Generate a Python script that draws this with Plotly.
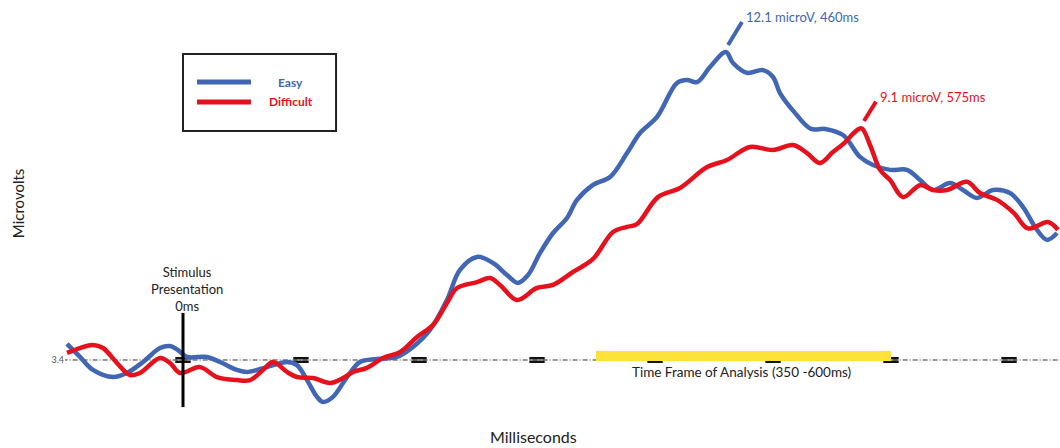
import plotly.graph_objects as go

# ---- ERP waveforms (time in ms, amplitude in microvolts) ----
easy_ms = [-98.3, -87.3, -76.3, -59.3, -47.5, -33.9, -19.5, -11.0, -4.2, 3.4,
           20.3, 31.4, 45.8, 54.2, 71.2, 88.1, 96.6, 105.1, 113.6, 118.6,
           127.1, 139.0, 150.0, 164.4, 181.4, 194.9, 209.3, 223.7, 234.7, 249.2,
           262.7, 274.6, 283.9, 292.4, 302.5, 313.6, 325.4, 333.9, 347.5, 361.9,
           376.3, 387.3, 401.7, 418.6, 427.1, 435.6, 446.6, 460.0, 466.1, 478.0,
           491.5, 500.0, 505.9, 518.6, 532.2, 544.1, 559.3, 573.7, 584.7, 599.2,
           613.6, 624.6, 635.6, 650.0, 661.0, 672.9, 686.4, 700.8, 711.9, 723.7,
           732.2, 740.7]
easy_uv = [0.63, 0.12, -0.39, -0.67, -0.51, -0.08, 0.47, 0.55, 0.39, 0.12,
           0.12, -0.08, -0.39, -0.47, -0.28, -0.08, -0.20, -0.79, -1.45, -1.65,
           -1.45, -0.67, -0.08, 0.04, 0.12, 0.51, 1.18, 2.36, 3.54, 4.05,
           3.81, 3.34, 3.03, 3.34, 4.20, 4.99, 5.58, 6.29, 6.88, 7.19,
           8.13, 8.92, 9.55, 10.88, 11.00, 10.92, 11.51, 12.1, 11.67, 11.28,
           11.39, 11.12, 10.49, 9.71, 9.08, 9.08, 8.84, 7.98, 7.66, 7.47,
           7.47, 7.07, 6.68, 6.95, 6.68, 6.37, 6.68, 6.56, 6.01, 5.11,
           4.72, 4.99]

difficult_ms = [-98.3, -87.3, -76.3, -67.8, -55.9, -44.9, -36.4, -19.5, -11.0, -2.5,
                14.4, 28.8, 45.8, 56.8, 67.8, 76.3, 88.1, 96.6, 110.2, 124.6,
                135.6, 144.1, 155.9, 169.5, 183.9, 198.3, 211.9, 223.7, 232.2, 249.2,
                260.2, 268.6, 283.1, 300.0, 313.6, 330.5, 347.5, 364.4, 376.3, 384.7,
                402.5, 421.2, 444.1, 461.0, 480.5, 500.0, 516.9, 528.8, 539.8, 550.8,
                561.0, 568.0, 575.0, 582.2, 590.7, 599.2, 610.2, 624.6, 635.6, 647.5,
                664.4, 675.4, 689.8, 704.2, 716.1, 733.1, 741.5]
difficult_uv = [0.28, 0.47, 0.59, 0.47, -0.12, -0.59, -0.51, 0.08, -0.12, -0.51,
                -0.28, -0.67, -0.79, -0.79, -0.39, -0.08, -0.47, -0.67, -0.71, -0.90,
                -0.71, -0.47, -0.31, 0.08, 0.31, 0.90, 1.38, 2.24, 2.83, 3.06,
                3.22, 2.95, 2.36, 2.83, 2.95, 3.46, 3.97, 5.03, 5.23, 5.34,
                6.40, 6.76, 7.58, 7.86, 8.37, 8.25, 8.45, 8.13, 7.74, 8.17,
                8.55, 8.90, 9.1, 8.45, 7.47, 7.07, 6.40, 6.87, 6.68, 6.68,
                7.00, 6.56, 6.29, 5.77, 5.17, 5.42, 5.11]

tick_ms = [0, 100, 200, 300, 400, 500, 600, 700]
window_ms = [350, 600]
easy_peak = (460, 12.1)
difficult_peak = (575, 9.1)

BLUE = "#4066B4"
RED = "#E5121E"
TEXT = "#222222"
FONT = "Lato"

fig = go.Figure()

# tick marks along the baseline (drawn as small double bars)
for off in (-0.07, 0.07):
    fig.add_trace(go.Scatter(
        x=tick_ms, y=[off] * len(tick_ms), mode="markers",
        marker=dict(symbol="line-ew", size=11, color="#111",
                    line=dict(width=2.5, color="#111")),
        hoverinfo="skip", showlegend=False))

fig.add_trace(go.Scatter(x=easy_ms, y=easy_uv, mode="lines", name="Easy",
                         line=dict(color=BLUE, width=4.5, shape="spline", smoothing=1),
                         showlegend=False))
fig.add_trace(go.Scatter(x=difficult_ms, y=difficult_uv, mode="lines", name="Difficult",
                         line=dict(color=RED, width=4.5, shape="spline", smoothing=1),
                         showlegend=False))

shapes = []
# dash-dot baseline
shapes.append(dict(type="line", xref="x", yref="y", x0=-102, x1=745, y0=0, y1=0,
                   line=dict(color="#333", width=1, dash="5px,2px,1px,2px"), layer="below"))
# analysis window bar
shapes.append(dict(type="rect", xref="x", yref="y", x0=window_ms[0], x1=window_ms[1],
                   y0=-0.04, y1=0.35, fillcolor="#FDE23A", line=dict(width=0), layer="above"))
# stimulus onset marker
shapes.append(dict(type="line", xref="x", yref="y", x0=0, x1=0, y0=-1.85, y1=1.85,
                   line=dict(color="black", width=3), layer="above"))
# legend box
shapes.append(dict(type="rect", xref="x", yref="y", x0=0, x1=129.7, y0=9.0, y1=12.02,
                   line=dict(color="#222", width=2), fillcolor="white", layer="above"))
shapes.append(dict(type="line", xref="x", yref="y", x0=11.9, x1=57.6, y0=10.92, y1=10.92,
                   line=dict(color=BLUE, width=5), layer="above"))
shapes.append(dict(type="line", xref="x", yref="y", x0=11.9, x1=57.6, y0=10.14, y1=10.14,
                   line=dict(color=RED, width=5), layer="above"))
# peak leader lines
shapes.append(dict(type="line", xref="x", yref="y", x0=easy_peak[0] + 1.9, y0=easy_peak[1] + 0.28,
                   x1=easy_peak[0] + 13.7, y1=easy_peak[1] + 1.18,
                   line=dict(color=BLUE, width=4)))
shapes.append(dict(type="line", xref="x", yref="y", x0=difficult_peak[0] + 2.1, y0=difficult_peak[1] + 0.29,
                   x1=difficult_peak[0] + 12.3, y1=difficult_peak[1] + 1.05,
                   line=dict(color=RED, width=4)))

annotations = [
    dict(x=91.5, y=10.9, xref="x", yref="y", text="<b>Easy</b>", showarrow=False,
         font=dict(family=FONT, size=12, color=BLUE)),
    dict(x=91.5, y=10.14, xref="x", yref="y", text="<b>Difficult</b>", showarrow=False,
         font=dict(family=FONT, size=12, color=RED)),
    dict(x=3, y=2.79, xref="x", yref="y", text="Stimulus<br>Presentation<br>0ms",
         showarrow=False, align="center", font=dict(family=FONT, size=13, color=TEXT)),
    dict(x=473.7, y=-0.47, xref="x", yref="y", text="Time Frame of Analysis (350 -600ms)",
         showarrow=False, font=dict(family=FONT, size=13.5, color=TEXT)),
    dict(x=easy_peak[0] + 15.4, y=easy_peak[1] + 1.38, xref="x", yref="y", xanchor="left",
         text=f"{easy_peak[1]} microV, {easy_peak[0]}ms", showarrow=False,
         font=dict(family=FONT, size=13, color=BLUE)),
    dict(x=difficult_peak[0] + 14.0, y=difficult_peak[1] + 1.25, xref="x", yref="y", xanchor="left",
         text=f"{difficult_peak[1]} microV, {difficult_peak[0]}ms", showarrow=False,
         font=dict(family=FONT, size=13, color=RED)),
    dict(x=-0.058, y=0.545, xref="paper", yref="paper", text="Microvolts", textangle=-90,
         showarrow=False, font=dict(family=FONT, size=15, color=TEXT)),
    dict(x=296.6, y=-2.99, xref="x", yref="y", text="Milliseconds", showarrow=False,
         font=dict(family=FONT, size=16, color=TEXT)),
]

fig.update_layout(
    width=1060, height=448,
    margin=dict(l=65, r=0, t=0, b=0),
    paper_bgcolor="white", plot_bgcolor="white",
    xaxis=dict(range=[-100, 743.2], showgrid=False, zeroline=False, showline=False,
               showticklabels=False, ticks=""),
    yaxis=dict(range=[-3.458, 14.145], showgrid=False, zeroline=False, showline=False,
               tickvals=[0], ticktext=["3.4"], ticks="",
               tickfont=dict(family=FONT, size=9, color="#555")),
    shapes=shapes, annotations=annotations,
    showlegend=False,
)

fig.write_html("out.html")
